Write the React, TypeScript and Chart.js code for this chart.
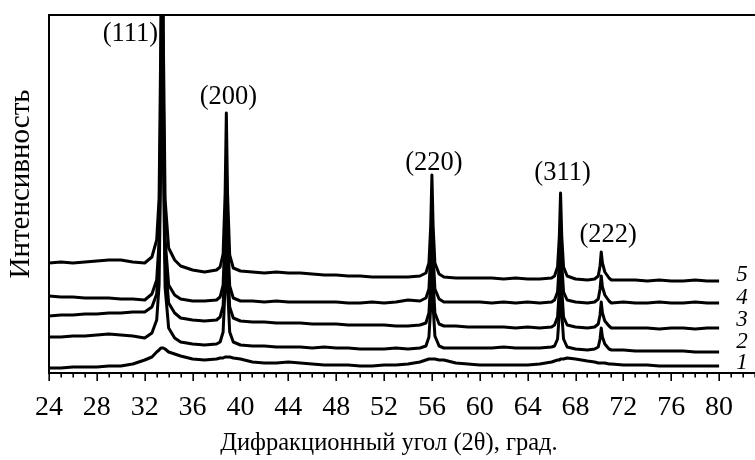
import React, { useEffect, useRef } from "react";
import { Chart, registerables } from "chart.js";

Chart.register(...registerables);

// Diffraction angle grid (2θ, degrees)
const angles = [
  24, 25, 26, 27, 28, 29, 30, 31, 32,
  32.6, 33.0, 33.2, 33.35, 33.45, 33.55, 33.7, 34.0, 34.5,
  35, 36, 37, 38,
  38.3, 38.55, 38.72, 38.82, 38.92, 39.1, 39.4,
  40, 41, 42, 43, 44, 45, 46, 47, 48, 49, 50, 51, 52, 53, 54, 55,
  55.5, 55.75, 55.9, 56.0, 56.1, 56.25, 56.6,
  57, 58, 59, 60, 61, 62, 63, 64, 65, 66,
  66.25, 66.5, 66.65, 66.75, 66.85, 67.0, 67.3,
  68, 69,
  69.6, 69.9, 70.05, 70.15, 70.25, 70.45, 70.8,
  71, 72, 73, 74, 75, 76, 77, 78, 79, 80,
];

// Intensities (arbitrary units, curves already offset)
const curve1 = [
  5, 5, 6, 6, 6, 7, 7, 9, 13,
  16, 21, 23, 25, 25, 25, 24, 21, 19,
  17, 14, 13, 14,
  15, 15, 16, 16, 16, 16, 15,
  14, 11, 10, 10, 11, 10, 9, 8, 8, 8, 7, 7, 8, 8, 9, 11,
  13, 14, 14, 14, 14, 14, 13,
  13, 10, 9, 8, 8, 8, 8, 8, 9, 11,
  12, 13, 13, 14, 14, 14, 15,
  14, 12,
  11, 10, 10, 10, 10, 10, 9,
  9, 8, 8, 8, 7, 7, 7, 7, 7, 7,
];

const curve2 = [
  36, 36, 37, 37, 38, 39, 38, 37, 35,
  40, 53, 88, 225, 415, 223, 86, 45, 35,
  31, 29, 28, 29,
  31, 41, 87, 147, 87, 41, 31,
  28, 27, 27, 26, 26, 26, 25, 26, 25, 25, 24, 24, 24, 25, 24, 25,
  27, 36, 66, 109, 67, 37, 27,
  25, 25, 25, 25, 25, 26, 25, 25, 25, 26,
  27, 34, 60, 96, 60, 34, 26,
  24, 23,
  24, 26, 34, 45, 36, 29, 24,
  23, 23, 22, 22, 22, 22, 22, 21, 21, 21,
];

const curve3 = [
  57, 58, 58, 59, 59, 60, 60, 61, 61,
  66, 79, 116, 260, 460, 257, 113, 70, 60,
  55, 53, 52, 53,
  56, 67, 116, 181, 116, 66, 55,
  52, 51, 51, 50, 50, 50, 49, 49, 49, 48, 48, 48, 48, 47, 47, 48,
  50, 60, 92, 137, 92, 60, 49,
  47, 47, 46, 46, 46, 46, 45, 46, 45, 46,
  48, 56, 84, 123, 84, 56, 48,
  46, 45,
  46, 49, 58, 71, 60, 52, 47,
  45, 45, 45, 45, 44, 45, 45, 44, 45, 45,
];

const curve4 = [
  77, 76, 76, 75, 75, 75, 74, 74, 73,
  79, 93, 132, 283, 493, 285, 134, 88, 78,
  74, 72, 72, 73,
  76, 88, 141, 211, 141, 87, 75,
  72, 72, 71, 72, 71, 71, 71, 71, 71, 70, 70, 71, 70, 71, 73, 72,
  75, 84, 119, 166, 119, 84, 74,
  71, 71, 71, 71, 70, 71, 70, 71, 70, 71,
  73, 81, 110, 150, 110, 81, 73,
  71, 70,
  71, 74, 84, 97, 86, 78, 72,
  70, 71, 70, 70, 71, 70, 70, 71, 70, 70,
];

const curve5 = [
  110, 111, 110, 111, 112, 113, 113, 111, 110,
  116, 133, 175, 341, 571, 340, 174, 125, 113,
  107, 103, 101, 103,
  106, 119, 180, 260, 180, 118, 105,
  102, 101, 100, 101, 100, 100, 99, 98, 98, 97, 97, 96, 96, 96, 96, 97,
  100, 110, 147, 198, 147, 110, 99,
  96, 95, 95, 95, 95, 94, 95, 94, 94, 95,
  97, 106, 137, 180, 137, 106, 97,
  94, 93,
  94, 97, 107, 121, 110, 101, 95,
  93, 93, 93, 92, 93, 92, 92, 93, 92, 92,
];

const curves = [curve1, curve2, curve3, curve4, curve5];
const curveNames = ["1", "2", "3", "4", "5"];
const curveNameLevels = [10, 31, 53, 75, 98];

const xTickLabels = ["24", "28", "32", "36", "40", "44", "48", "52", "56", "60", "64", "68", "72", "76", "80"];

const peakNames = ["(111)", "(200)", "(220)", "(311)", "(222)"];
const peakAngles = [33.45, 38.82, 56.0, 66.75, 70.15];
const peakLabelLevels = [339, 276, 210, 200, 138];

const xTitle = "Дифракционный угол (2θ), град.";
const yTitle = "Интенсивность";

const SERIF = "'Liberation Serif', 'Times New Roman', serif";

const decorPlugin = {
  id: "decor",
  afterDraw(chart: any) {
    const ctx = chart.ctx as CanvasRenderingContext2D;
    const xs = chart.scales.x;
    const ys = chart.scales.y;
    const area = chart.chartArea;
    ctx.save();
    ctx.strokeStyle = "#000";
    ctx.fillStyle = "#000";

    // frame: top, left, bottom
    ctx.lineWidth = 2;
    ctx.beginPath();
    ctx.moveTo(area.left, area.top - 1);
    ctx.lineTo(area.right, area.top - 1);
    ctx.moveTo(area.left, area.top - 2);
    ctx.lineTo(area.left, area.bottom + 1);
    ctx.moveTo(area.left - 1, area.bottom);
    ctx.lineTo(area.right, area.bottom);
    ctx.stroke();

    // ticks
    ctx.lineWidth = 1.6;
    const min = Math.ceil(xs.min);
    const max = Math.floor(xs.max);
    ctx.beginPath();
    for (let v = min; v <= max; v++) {
      const px = Math.round(xs.getPixelForValue(v)) + 0.2;
      const len = (v - 24) % 4 === 0 ? 8 : 4.5;
      ctx.moveTo(px, area.bottom);
      ctx.lineTo(px, area.bottom + len);
    }
    ctx.stroke();

    // tick labels
    ctx.font = `28px ${SERIF}`;
    ctx.textAlign = "center";
    ctx.textBaseline = "middle";
    xTickLabels.forEach((t) => {
      const px = xs.getPixelForValue(parseFloat(t));
      ctx.fillText(t, px, 408);
    });

    // axis titles
    ctx.font = `24.5px ${SERIF}`;
    ctx.fillText(xTitle, 389, 444);

    ctx.save();
    ctx.translate(21, 184);
    ctx.rotate(-Math.PI / 2);
    ctx.font = `29px ${SERIF}`;
    ctx.fillText(yTitle, 0, 0);
    ctx.restore();

    // peak labels
    ctx.font = `26.5px ${SERIF}`;
    peakNames.forEach((name, i) => {
      const px = xs.getPixelForValue(peakAngles[i]);
      const py = ys.getPixelForValue(peakLabelLevels[i]);
      if (i === 0) {
        ctx.textAlign = "right";
        ctx.fillText(name, px - 4, py);
      } else {
        ctx.textAlign = "center";
        ctx.fillText(name, px + (i === 4 ? 7 : 2), py);
      }
    });

    // curve numbers
    ctx.font = `italic 23px ${SERIF}`;
    ctx.textAlign = "center";
    curveNames.forEach((n, i) => {
      const py = ys.getPixelForValue(curveNameLevels[i]);
      ctx.fillText(n, 742, py);
    });

    ctx.restore();
  },
};

export default function App() {
  const ref = useRef<HTMLCanvasElement | null>(null);

  useEffect(() => {
    document.body.style.margin = "0";
    const canvas = ref.current;
    if (!canvas) return;
    const chart = new Chart(canvas, {
      type: "line",
      data: {
        datasets: curves.map((c, i) => ({
          label: curveNames[i],
          data: angles.map((a, j) => ({ x: a, y: c[j] })),
          borderColor: "#000",
          borderWidth: 3,
          pointRadius: 0,
          tension: 0,
          fill: false,
          borderJoinStyle: "round" as const,
        })),
      },
      options: {
        animation: false,
        responsive: false,
        devicePixelRatio: 1,
        layout: { padding: { left: 49, top: 16, right: 0, bottom: 87 } },
        plugins: { legend: { display: false }, tooltip: { enabled: false } },
        scales: {
          x: { type: "linear", min: 24, max: 83, display: false },
          y: { type: "linear", min: 0, max: 357, display: false },
        },
      },
      plugins: [decorPlugin],
    });
    return () => chart.destroy();
  }, []);

  return (
    <div style={{ width: 755, height: 460, background: "#fff" }}>
      <canvas ref={ref} width={755} height={460} style={{ display: "block" }} />
    </div>
  );
}
